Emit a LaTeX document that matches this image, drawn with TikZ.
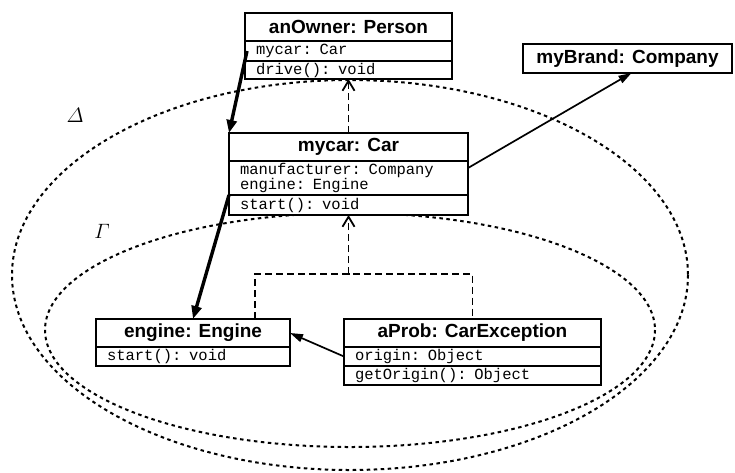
\documentclass[tikz,border=0pt]{standalone}
\usepackage{amsmath}
\usepackage{fontspec}
\newfontfamily\sansfnt{Liberation Sans}
\newfontfamily\monofnt{Liberation Mono}
\usetikzlibrary{arrows.meta,calc}

\begin{document}
\begin{tikzpicture}[x=1pt,y=-1pt,
  ttl/.style={draw, fill=white, line width=1.8pt, inner sep=0pt, outer sep=0pt, anchor=north west,
    font=\sansfnt\bfseries\fontsize{19}{22}\selectfont},
  cmp/.style={draw, fill=white, line width=1.8pt, inner xsep=11pt, inner ysep=0pt, outer sep=0pt,
    anchor=north west, align=left, font=\monofnt\fontsize{15.5}{15}\selectfont},
  region/.style={line width=2pt, dash pattern=on 3.5pt off 3.5pt},
  thk/.style={line width=3.4pt, -{Triangle[length=13pt,width=10pt]}},
  thn/.style={line width=1.7pt, -{Triangle[length=13pt,width=8pt]}},
  dsh/.style={line width=1.9pt, dash pattern=on 7pt off 4pt},
  opn/.style={dsh, -{Straight Barb[length=10pt,width=12pt,line width=1.8pt]}},
  greek/.style={inner sep=0pt, font=\fontsize{21}{21}\selectfont}
]
\useasboundingbox (0,0) rectangle (735,472);

% regions
\draw[region] (350,275) ellipse [x radius=338, y radius=195];
\draw[region] (350,330) ellipse [x radius=305, y radius=117];
\node[greek] (delta) at (75,115) {$\varDelta$};
\node[greek] (gamma) at (102,231) {$\varGamma$};

% anOwner: Person
\node[ttl, minimum width=207pt, minimum height=28pt] (owner) at (245,13) {anOwner: Person};
\node[cmp, text width=185pt, minimum height=20pt] (ownerA) at (owner.south west) {mycar: Car};
\node[cmp, text width=185pt, minimum height=18pt] (ownerM) at (ownerA.south west) {drive(): void};

% myBrand: Company
\node[ttl, minimum width=209pt, minimum height=29pt] (brand) at (523,44) {myBrand: Company};

% mycar: Car
\node[ttl, minimum width=239pt, minimum height=28pt] (mycar) at (229,133) {mycar: Car};
\node[cmp, text width=217pt, minimum height=34pt] (mycarA) at (mycar.south west) {manufacturer: Company\\engine: Engine};
\node[cmp, text width=217pt, minimum height=20pt] (mycarM) at (mycarA.south west) {start(): void};

% engine: Engine
\node[ttl, minimum width=194pt, minimum height=28pt] (engine) at (96,319) {engine: Engine};
\node[cmp, text width=172pt, minimum height=19pt] (engineM) at (engine.south west) {start(): void};

% aProb: CarException
\node[ttl, minimum width=257pt, minimum height=28pt] (aprob) at (344,319) {aProb: CarException};
\node[cmp, text width=235pt, minimum height=19pt] (aprobA) at (aprob.south west) {origin: Object};
\node[cmp, text width=235pt, minimum height=19pt] (aprobM) at (aprobA.south west) {getOrigin(): Object};

% connectors
\draw[thk] ($(ownerA.west)+(2,0)$) -- (mycar.north west);
\draw[thk] (mycarA.south west) -- (engine.north);
\draw[thn] ($(mycarA.north east)+(0,7)$) -- ($(brand.south)+(4,0)$);
\draw[thn] (aprobA.west) -- (engine.east);
\draw[opn] (mycar.north) -- (ownerM.south);
\coordinate (junc) at ($(mycarM.south)+(0,59)$);
\draw[dsh] ($(engine.north east)+(-35,0)$) |- (junc) -| (aprob.north);
\draw[opn] (junc) -- (mycarM.south);
\end{tikzpicture}
\end{document}
